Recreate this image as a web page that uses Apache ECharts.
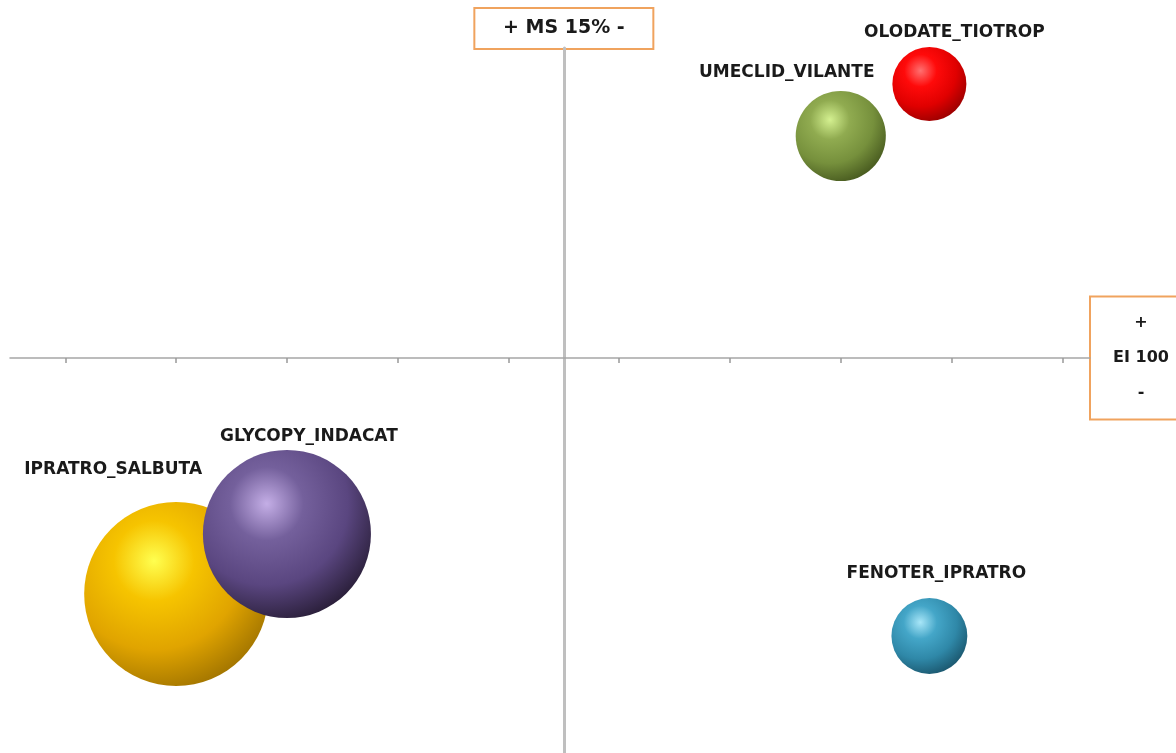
<!DOCTYPE html>
<html>
<head>
<meta charset="utf-8">
<script src="https://cdn.jsdelivr.net/npm/echarts@6/dist/echarts.min.js"></script>
<style>
html,body{margin:0;padding:0;background:#fff;}
#chart{width:1176px;height:753px;}
</style>
</head>
<body>
<div id="chart"></div>
<script>
// ---- data ----
const categories = ['IPRATRO_SALBUTA', 'GLYCOPY_INDACAT', 'UMECLID_VILANTE', 'OLODATE_TIOTROP', 'FENOTER_IPRATRO'];
const msValues   = [22.0, 20.0, 10.0, 8.4, 8.4];      // market share %
const eiValues   = [52.8, 64.8, 144.4, 154.8, 44.4];  // evolution index
const sizeValues = [84.6, 70.6, 20.3, 13.7, 14.4];    // bubble size
const msTicks    = [6, 8, 10, 12, 14, 16, 18, 20, 22, 24];
const MS_CROSS = 15;
const EI_CROSS = 100;
const msRange = [5.5, 25];
const eiRange = [21, 162];

// ---- styles ----
const FONT = 'DejaVu Sans';
const palette = [
  ['#ffff50', '#f6c400', '#e0a400', '#946a00'],
  ['#c4aee6', '#74609c', '#5a4680', '#1e1528'],
  ['#d4f090', '#90ab50', '#76903c', '#3c4d18'],
  ['#ff7070', '#ff0a0a', '#e00000', '#8a0000'],
  ['#a8e6f8', '#44a6c8', '#2f88a8', '#164b60']
];
const labelOffsets = [[-63, -124], [22, -97], [-54, -63], [25, -51], [7, -62]];

function sphere(c) {
  return {
    type: 'radial', x: 0.38, y: 0.32, r: 0.78,
    colorStops: [
      { offset: 0, color: c[0] },
      { offset: 0.28, color: c[1] },
      { offset: 0.62, color: c[2] },
      { offset: 1, color: c[3] }
    ]
  };
}

const data = categories.map((name, i) => ({
  name: name,
  value: [msValues[i] - MS_CROSS, eiValues[i] - EI_CROSS, sizeValues[i]],
  itemStyle: { color: sphere(palette[i]), opacity: 1 },
  label: { offset: labelOffsets[i] }
}));

const boxStyle = {
  backgroundColor: '#ffffff', borderColor: '#f0a35e', borderWidth: 2
};

const chart = echarts.init(document.getElementById('chart'));
chart.setOption({
  animation: false,
  backgroundColor: '#ffffff',
  grid: { left: 10, right: 86, top: 48, bottom: 0, containLabel: false, outerBoundsMode: 'none' },
  xAxis: {
    type: 'value',
    inverse: true,
    min: msRange[0] - MS_CROSS,
    max: msRange[1] - MS_CROSS,
    name: '{c|+}\n{c|EI 100}\n{c|-}',
    nameLocation: 'start',
    nameGap: 1,
    nameTextStyle: Object.assign({
      align: 'left', verticalAlign: 'middle', padding: [8, 0, 8, 0],
      rich: { c: { fontFamily: FONT, fontSize: 16, fontWeight: 'bold', color: '#1a1a1a',
        lineHeight: 35, width: 100, align: 'center' } }
    }, boxStyle),
    axisLine: { show: true, onZero: true, lineStyle: { color: '#a6a6a6', width: 1.5 } },
    axisTick: { show: true, length: 5, lineStyle: { color: '#999999', width: 1.5 },
      customValues: msTicks.map(v => v - MS_CROSS) },
    axisLabel: { show: false },
    splitLine: { show: false }
  },
  yAxis: {
    type: 'value',
    min: eiRange[0] - EI_CROSS,
    max: eiRange[1] - EI_CROSS,
    name: '{c|+ MS 15% -}',
    nameLocation: 'end',
    nameGap: 0,
    nameTextStyle: Object.assign({
      align: 'center', verticalAlign: 'bottom', padding: [9, 0, 9, 0],
      rich: { c: { fontFamily: FONT, fontSize: 19, fontWeight: 'bold', color: '#1a1a1a',
        lineHeight: 21, width: 177, align: 'center' } }
    }, boxStyle),
    axisLine: { show: true, onZero: true, lineStyle: { color: '#bfbfbf', width: 3 } },
    axisTick: { show: false },
    axisLabel: { show: false },
    splitLine: { show: false }
  },
  series: [{
    type: 'scatter',
    data: data,
    symbolSize: v => 20 * Math.sqrt(v[2]),
    label: {
      show: true,
      position: 'inside',
      formatter: p => p.name,
      fontFamily: FONT, fontSize: 17, fontWeight: 'bold', color: '#1a1a1a'
    },
    emphasis: { disabled: true },
    clip: false
  }]
});
</script>
</body>
</html>
